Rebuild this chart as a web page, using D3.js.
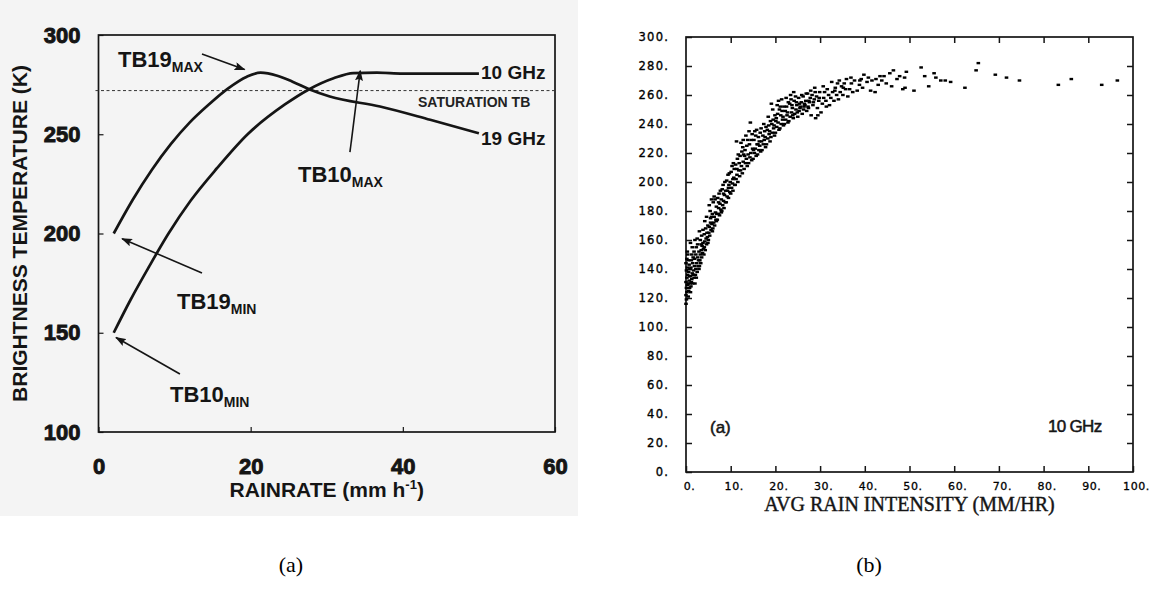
<!DOCTYPE html>
<html><head><meta charset="utf-8">
<script src="https://cdn.jsdelivr.net/npm/d3@7"></script>
<style>body{margin:0;background:#fff;} svg{display:block;}</style>
</head><body><svg id="c" width="1156" height="596"></svg>
<script>
// ---------- Panel (a): model curves ----------
const rain10 = [2, 4.2, 6.6, 9.2, 12.1, 15.6, 19.6, 24.5, 27.7, 30.9, 33.5, 36.6, 40, 50];
const tb10   = [150, 166.5, 183, 200, 216.5, 233, 250, 265, 272.7, 278.2, 280.8, 281, 280.5, 280.5];
const rain19 = [2, 4.5, 7, 9.5, 12, 14.5, 17, 19.5, 21.3, 23.5, 25.5, 27.7, 30.4, 37, 43.6, 50];
const tb19   = [200, 217, 232, 245, 256, 265, 273, 279, 281, 279.5, 276.5, 272.7, 269, 264, 257.3, 250.5];
const saturationTB = 272;
const leftXTicks = [0, 20, 40, 60];
const leftYTicks = [100, 150, 200, 250, 300];

// ---------- Panel (b): observed 10 GHz scatter [rain intensity, TB] ----------
const rightXTicks = [0, 10, 20, 30, 40, 50, 60, 70, 80, 90, 100];
const rightYTicks = [0, 20, 40, 60, 80, 100, 120, 140, 160, 180, 200, 220, 240, 260, 280, 300];
const obs10GHz = [
[0.0,116],[0.1,119],[0.0,122],[0.2,124],[0.1,127],[0.3,129],[0.0,131],[0.2,134],[0.4,136],[0.1,139],[0.3,141],[0.0,144],[0.2,147],[0.5,121],[0.6,125],[0.5,130],[0.7,132],[0.6,138],[0.8,127],[0.9,130],[0.7,143],[0.4,150],[0.8,135],[0.9,140],[0.5,146],[0.3,152],
[1.0,124],[1.1,128],[1.2,131],[1.0,135],[1.3,133],[1.4,137],[1.1,141],[1.5,130],[1.6,136],[1.2,146],[1.7,139],[1.5,144],[1.8,134],[1.9,142],[1.3,150],[1.6,148],[1.4,155],[1.8,152],[1.0,158],[1.9,147],
[2.0,130],[2.1,136],[2.2,140],[2.3,134],[2.4,144],[2.5,138],[2.6,148],[2.2,150],[2.7,142],[2.8,146],[2.9,152],[2.3,155],[2.0,160],[2.6,157],[2.9,140],[2.5,161],
[3.0,142],[3.1,146],[3.2,150],[3.3,144],[3.4,153],[3.5,148],[3.6,156],[3.7,151],[3.8,158],[3.2,160],[3.9,154],[3.5,163],[3.0,166],[3.8,167],[3.4,157],
[4.0,150],[4.1,155],[4.2,159],[4.3,153],[4.5,161],[4.6,157],[4.7,165],[4.4,168],[4.8,162],[4.9,170],[4.2,173],[4.6,176],[4.9,158],[4.1,164],
[5.0,160],[5.1,165],[5.2,169],[5.3,163],[5.5,172],[5.6,167],[5.7,176],[5.4,180],[5.8,171],[5.9,178],[5.2,184],[5.7,188],[5.5,175],[5.9,166],
[6.0,168],[6.2,172],[6.3,176],[6.4,170],[6.6,179],[6.7,174],[6.8,183],[6.1,186],[6.5,188],[6.9,178],[6.3,190],[6.8,173],
[7.0,174],[7.2,178],[7.3,182],[7.5,177],[7.6,185],[7.8,181],[7.1,189],[7.4,192],[7.9,188],[7.7,194],[7.3,186],[7.9,179],
[8.0,180],[8.2,184],[8.4,187],[8.5,182],[8.6,191],[8.8,186],[8.1,195],[8.3,198],[8.9,194],[8.7,200],[8.4,192],
[9.0,186],[9.2,190],[9.3,194],[9.5,189],[9.6,198],[9.8,193],[9.1,201],[9.4,205],[9.9,200],[9.7,206],[9.5,196],
[10.0,192],[10.2,196],[10.4,199],[10.5,194],[10.7,203],[10.9,198],[10.1,207],[10.3,211],[10.8,209],[10.6,213],[10.5,202],
[11.0,198],[11.2,202],[11.4,205],[11.6,200],[11.8,208],[11.1,212],[11.5,216],[11.3,228],[11.9,213],[11.7,219],[11.4,209],
[12.0,204],[12.2,208],[12.4,211],[12.6,206],[12.8,214],[12.1,218],[12.5,221],[12.9,219],[12.3,227],[12.7,224],[12.8,229],
[13.0,209],[13.3,213],[13.5,216],[13.7,211],[13.9,219],[13.2,222],[13.6,225],[13.8,229],[13.4,232],[13.1,218],
[14.0,213],[14.3,217],[14.5,220],[14.7,215],[14.9,223],[14.2,226],[14.6,229],[14.8,233],[14.4,241],[14.1,235],
[15.0,216],[15.3,220],[15.5,223],[15.7,218],[15.9,226],[15.2,229],[15.6,232],[15.8,236],[15.4,235],[15.1,222],
[16.0,219],[16.3,222],[16.5,225],[16.7,221],[16.9,228],[16.2,231],[16.6,234],[16.8,237],[16.4,228],[16.1,226],
[17.0,222],[17.3,226],[17.5,229],[17.8,224],[17.2,232],[17.6,235],[17.9,238],[17.4,240],[17.7,231],
[18.0,226],[18.3,230],[18.6,233],[18.8,228],[18.2,236],[18.5,239],[18.9,242],[18.4,245],[18.7,235],
[19.0,231],[19.3,234],[19.6,237],[19.8,232],[19.2,240],[19.5,243],[19.9,246],[19.4,250],[19.7,239],[19.1,254],
[20.0,234],[20.3,238],[20.6,241],[20.8,236],[20.2,244],[20.5,247],[20.9,250],[20.4,253],[20.7,256],[20.1,242],
[21.0,237],[21.3,240],[21.6,243],[21.8,239],[21.2,246],[21.5,249],[21.9,252],[21.4,257],[21.7,245],[21.1,252],
[22.0,240],[22.3,243],[22.6,246],[22.8,241],[22.2,249],[22.5,252],[22.9,255],[22.4,258],[22.7,248],
[23.0,242],[23.3,245],[23.6,248],[23.8,251],[23.2,254],[23.5,257],[23.9,246],[23.4,260],[23.7,253],
[24.0,244],[24.3,247],[24.6,250],[24.8,253],[24.2,256],[24.5,259],[24.9,248],[24.1,262],[24.7,255],
[25.0,245],[25.3,249],[25.6,252],[25.8,255],[25.2,258],[25.5,251],[25.9,260],[25.4,254],
[26.0,247],[26.3,250],[26.6,253],[26.8,256],[26.2,259],[26.5,254],[26.9,261],[26.4,252],
[27.0,249],[27.3,252],[27.6,255],[27.8,258],[27.2,261],[27.5,256],[27.9,263],[27.4,251],
[28.0,246],[28.4,253],[28.7,257],[28.2,260],[28.9,262],[28.5,255],[28.8,265],
[29.0,244],[29.4,251],[29.7,256],[29.2,259],[29.9,262],[29.5,246],[29.8,258],
[30.2,248],[30.5,254],[30.8,258],[31.0,262],[31.3,256],[31.6,264],[31.9,260],[30.7,266],[31.4,252],
[32.1,253],[32.4,258],[32.8,262],[33.1,256],[33.4,265],[33.7,260],[33.9,268],[32.6,269],[33.3,263],
[34.1,257],[34.5,262],[34.8,266],[35.1,260],[35.4,268],[35.7,264],[35.9,271],[34.3,270],[35.2,265],
[36.2,259],[36.6,264],[37.0,268],[37.3,262],[37.7,270],[36.9,272],
[38.3,263],[38.8,267],[39.2,271],[39.5,265],[39.8,274],[38.9,270],
[40.5,269],[40.8,272],[41.3,263],[41.6,270],[42.3,262],[42.5,271],[43.0,267],[43.4,273],[43.8,270],
[44.3,273],[44.8,268],[45.6,275],[46.0,266],[46.4,277],[47.2,271],[47.8,273],[48.5,264],[48.9,272],[49.3,276],[49.0,265],
[51.0,263],[52.6,279],[53.4,273],[54.3,266],[55.5,275],[55.9,272],[57.0,270],[58.0,270],[59.2,269],[62.4,265],[64.9,277],[65.4,282],[69.2,274],[71.7,272],[74.6,270],[83.3,267],[86.2,271],[93.0,267],[96.5,270]
];

const svg = d3.select('#c');
const ink = '#151515';

// ================= Panel (a) =================
svg.append('rect').attr('x', 0).attr('y', 0).attr('width', 578).attr('height', 516).attr('fill', '#f4f4f4');

const xL = d3.scaleLinear().domain([0, 60]).range([98.5, 555]);
const yL = d3.scaleLinear().domain([100, 300]).range([432, 35]);
const gL = svg.append('g');

const defs = svg.append('defs');
defs.append('marker').attr('id', 'arr').attr('markerUnits', 'userSpaceOnUse')
  .attr('markerWidth', 11).attr('markerHeight', 8).attr('refX', 10).attr('refY', 4).attr('orient', 'auto')
  .append('path').attr('d', 'M0,0 L11,4 L0,8 L2,4 Z').attr('fill', ink);

gL.append('g').attr('transform', `translate(0,${yL(100)})`)
  .call(d3.axisBottom(xL).tickValues(leftXTicks).tickSize(-5).tickPadding(26).tickFormat(d3.format('d')))
  .call(g => g.select('.domain').remove())
  .attr('font-family', 'Liberation Sans, Arial, sans-serif').attr('font-size', 22).attr('font-weight', 'bold')
  .call(g => g.selectAll('line').attr('stroke', ink).attr('stroke-width', 1.2))
  .call(g => g.selectAll('text').attr('fill', ink).attr('stroke', ink).attr('stroke-width', 0.9));

gL.append('g').attr('transform', `translate(${xL(0)},0)`)
  .call(d3.axisLeft(yL).tickValues(leftYTicks).tickSize(-5).tickPadding(18).tickFormat(d3.format('d')))
  .call(g => g.select('.domain').remove())
  .attr('font-family', 'Liberation Sans, Arial, sans-serif').attr('font-size', 22).attr('font-weight', 'bold')
  .call(g => g.selectAll('line').attr('stroke', ink).attr('stroke-width', 1.2))
  .call(g => g.selectAll('text').attr('fill', ink).attr('stroke', ink).attr('stroke-width', 0.9));

gL.append('rect').attr('x', xL(0)).attr('y', yL(300)).attr('width', xL(60) - xL(0)).attr('height', yL(100) - yL(300))
  .attr('fill', 'none').attr('stroke', ink).attr('stroke-width', 1.7);

gL.append('line').attr('x1', xL(0) - 3).attr('x2', xL(60)).attr('y1', yL(saturationTB)).attr('y2', yL(saturationTB))
  .attr('stroke', '#333').attr('stroke-width', 1).attr('stroke-dasharray', '3,2.5');

const lineL = d3.line().x(d => xL(d[0])).y(d => yL(d[1])).curve(d3.curveMonotoneX);
[[rain10, tb10], [rain19, tb19]].forEach(([xs, ys]) => {
  gL.append('path').datum(xs.map((x, i) => [x, ys[i]])).attr('d', lineL)
    .attr('fill', 'none').attr('stroke', ink).attr('stroke-width', 2.7).attr('stroke-linejoin', 'round');
});

// annotation arrows (data coordinates)
const arrows = [
  [[13.6, 290.4], [19.2, 282.6]],
  [[33.05, 241], [34.4, 282]],
  [[13.6, 180.1], [3.1, 197.4]],
  [[10.7, 129.2], [2.3, 147.6]]
];
arrows.forEach(([a, b]) => {
  gL.append('line').attr('x1', xL(a[0])).attr('y1', yL(a[1])).attr('x2', xL(b[0])).attr('y2', yL(b[1]))
    .attr('stroke', ink).attr('stroke-width', 1.6).attr('marker-end', 'url(#arr)');
});

const fontL = 'Liberation Sans, Arial, sans-serif';
const subLabels = [
  ['TB19', 'MAX', 118, 67],
  ['TB10', 'MAX', 298, 182],
  ['TB19', 'MIN', 177, 309],
  ['TB10', 'MIN', 170, 402]
];
subLabels.forEach(([main, sub, x, y]) => {
  const t = gL.append('text').attr('x', x).attr('y', y).attr('font-family', fontL)
    .attr('font-weight', 'bold').attr('font-size', 22).attr('fill', ink);
  t.append('tspan').text(main);
  t.append('tspan').attr('dy', 5).attr('font-size', 14).text(sub);
});
gL.append('text').attr('x', 481).attr('y', 79).attr('font-family', fontL).attr('font-weight', 'bold')
  .attr('font-size', 19).attr('fill', ink).text('10 GHz');
gL.append('text').attr('x', 481).attr('y', 145).attr('font-family', fontL).attr('font-weight', 'bold')
  .attr('font-size', 19).attr('fill', ink).text('19 GHz');
gL.append('text').attr('x', 418).attr('y', 107).attr('font-family', fontL).attr('font-weight', 'bold')
  .attr('font-size', 14).attr('fill', '#222').text('SATURATION TB');

// axis titles
const xt = gL.append('text').attr('x', (xL(0) + xL(60)) / 2).attr('y', 497).attr('text-anchor', 'middle')
  .attr('font-family', fontL).attr('font-weight', 'bold').attr('font-size', 21).attr('fill', ink);
xt.append('tspan').text('RAINRATE (mm h');
xt.append('tspan').attr('dy', -8).attr('font-size', 13).text('-1');
xt.append('tspan').attr('dy', 8).text(')');
gL.append('text').attr('transform', `translate(27,${(yL(100) + yL(300)) / 2}) rotate(-90)`)
  .attr('text-anchor', 'middle').attr('font-family', fontL).attr('font-weight', 'bold')
  .attr('font-size', 21).attr('fill', ink).text('BRIGHTNESS TEMPERATURE (K)');

// ================= Panel (b) =================
const xR = d3.scaleLinear().domain([0, 100]).range([686, 1133]);
const yR = d3.scaleLinear().domain([0, 300]).range([472, 37]);
const gR = svg.append('g');
const fontR = 'DejaVu Sans, Verdana, sans-serif';

gR.append('g').attr('transform', `translate(${xR(0)},0)`)
  .call(d3.axisLeft(yR).tickValues(rightYTicks).tickSize(-6).tickPadding(17).tickFormat(d => d + '.'))
  .call(g => g.select('.domain').remove())
  .attr('font-family', fontR).attr('font-size', 11.5)
  .call(g => g.selectAll('line').attr('stroke', ink).attr('stroke-width', 1.5))
  .call(g => g.selectAll('text').attr('fill', '#000').attr('stroke', '#000').attr('stroke-width', 0.35).attr('letter-spacing', 1.2));

gR.append('g').attr('transform', `translate(${xR(100)},0)`)
  .call(d3.axisRight(yR).tickValues(rightYTicks.slice(1, -1)).tickSize(-6).tickFormat(''))
  .call(g => g.select('.domain').remove())
  .call(g => g.selectAll('line').attr('stroke', ink).attr('stroke-width', 1.5));

gR.append('g').attr('transform', `translate(0,${yR(300)})`)
  .call(d3.axisTop(xR).tickValues(rightXTicks.slice(1, -1)).tickSize(-6).tickFormat(''))
  .call(g => g.select('.domain').remove())
  .call(g => g.selectAll('line').attr('stroke', ink).attr('stroke-width', 1.5));

gR.append('g').attr('transform', `translate(0,${yR(0)})`)
  .call(d3.axisBottom(xR).tickValues(rightXTicks).tickSize(-6).tickPadding(10).tickFormat(d => d + '.'))
  .call(g => g.select('.domain').remove())
  .attr('font-family', fontR).attr('font-size', 11)
  .call(g => g.selectAll('line').attr('stroke', ink).attr('stroke-width', 1.5))
  .call(g => g.selectAll('text').attr('fill', '#000').attr('stroke', '#000').attr('stroke-width', 0.3).attr('letter-spacing', 0.6).attr('dx', 3));

gR.append('rect').attr('x', xR(0)).attr('y', yR(300)).attr('width', xR(100) - xR(0)).attr('height', yR(0) - yR(300))
  .attr('fill', 'none').attr('stroke', ink).attr('stroke-width', 1.7);

gR.append('g').selectAll('rect').data(obs10GHz).join('rect')
  .attr('x', d => xR(d[0]) - 1.8).attr('y', d => yR(d[1]) - 1.2)
  .attr('width', 3.6).attr('height', 2.4).attr('fill', '#000');

gR.append('text').attr('x', 710).attr('y', 433).attr('font-family', fontL).attr('font-size', 17)
  .attr('fill', ink).attr('stroke', ink).attr('stroke-width', 0.5).text('(a)');
gR.append('text').attr('x', 1048).attr('y', 432).attr('font-family', fontL).attr('font-size', 17)
  .attr('letter-spacing', -0.7).attr('fill', ink).attr('stroke', ink).attr('stroke-width', 0.5).text('10 GHz');
gR.append('text').attr('x', (xR(0) + xR(100)) / 2).attr('y', 511).attr('text-anchor', 'middle')
  .attr('font-family', 'Liberation Serif, Times New Roman, serif').attr('font-size', 20)
  .attr('fill', ink).attr('stroke', ink).attr('stroke-width', 0.4).text('AVG RAIN INTENSITY (MM/HR)');

// ================= Captions =================
svg.append('text').attr('x', 291).attr('y', 572).attr('text-anchor', 'middle')
  .attr('font-family', 'Liberation Serif, Times New Roman, serif').attr('font-size', 22).attr('fill', '#000').text('(a)');
svg.append('text').attr('x', 869).attr('y', 572).attr('text-anchor', 'middle')
  .attr('font-family', 'Liberation Serif, Times New Roman, serif').attr('font-size', 22).attr('fill', '#000').text('(b)');
</script></body></html>
